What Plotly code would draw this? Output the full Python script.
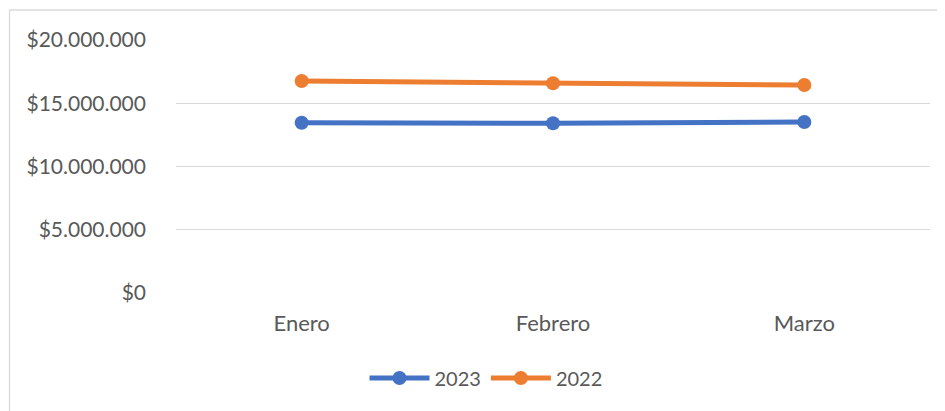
import plotly.graph_objects as go

# Datos de ventas mensuales
meses = ["Enero", "Febrero", "Marzo"]
ventas_2023 = [13460000, 13420000, 13520000]
ventas_2022 = [16760000, 16580000, 16440000]
y_ticks = [0, 5000000, 10000000, 15000000, 20000000]
y_labels = ["$0", "$5.000.000", "$10.000.000", "$15.000.000", "$20.000.000"]

TEXTO = "#595959"
GRID = "#D9D9D9"
FUENTE = "Lato, 'Open Sans', sans-serif"

fig = go.Figure()
fig.add_trace(go.Scatter(
    x=meses, y=ventas_2023, name="2023", mode="lines+markers",
    line=dict(color="#4472C4", width=5),
    marker=dict(color="#4472C4", size=14),
))
fig.add_trace(go.Scatter(
    x=meses, y=ventas_2022, name="2022", mode="lines+markers",
    line=dict(color="#ED7D31", width=5),
    marker=dict(color="#ED7D31", size=14),
))

# marco gris del área del gráfico (como en Excel)
fig.add_shape(
    type="rect", xref="paper", yref="paper",
    x0=-0.2208, x1=1.1, y0=-0.6, y1=1.1186,
    line=dict(color=GRID, width=1.3), layer="below",
)

# la página html añade 8px de margen al body, se compensa aquí
fig.update_layout(
    width=937, height=403,
    margin=dict(l=168, r=15, t=32, b=118),
    paper_bgcolor="white", plot_bgcolor="white",
    font=dict(family=FUENTE, size=21, color=TEXTO),
    showlegend=True,
    legend=dict(
        orientation="h", x=0.25, xanchor="left", y=-0.336, yanchor="middle",
        font=dict(size=20, color=TEXTO), itemwidth=60,
    ),
    xaxis=dict(
        type="category", range=[-0.5, 2.5], showgrid=False, showline=False,
        zeroline=False, ticks="", ticklabelstandoff=15,
        tickfont=dict(size=22, color=TEXTO),
    ),
    yaxis=dict(
        range=[0, 20000000], tickvals=y_ticks, ticktext=y_labels,
        showgrid=True, gridcolor=GRID, gridwidth=1.3, zeroline=False,
        showline=False, ticks="", ticklabelstandoff=29,
        tickfont=dict(size=21, color=TEXTO),
    ),
)

fig.write_html("out.html")
